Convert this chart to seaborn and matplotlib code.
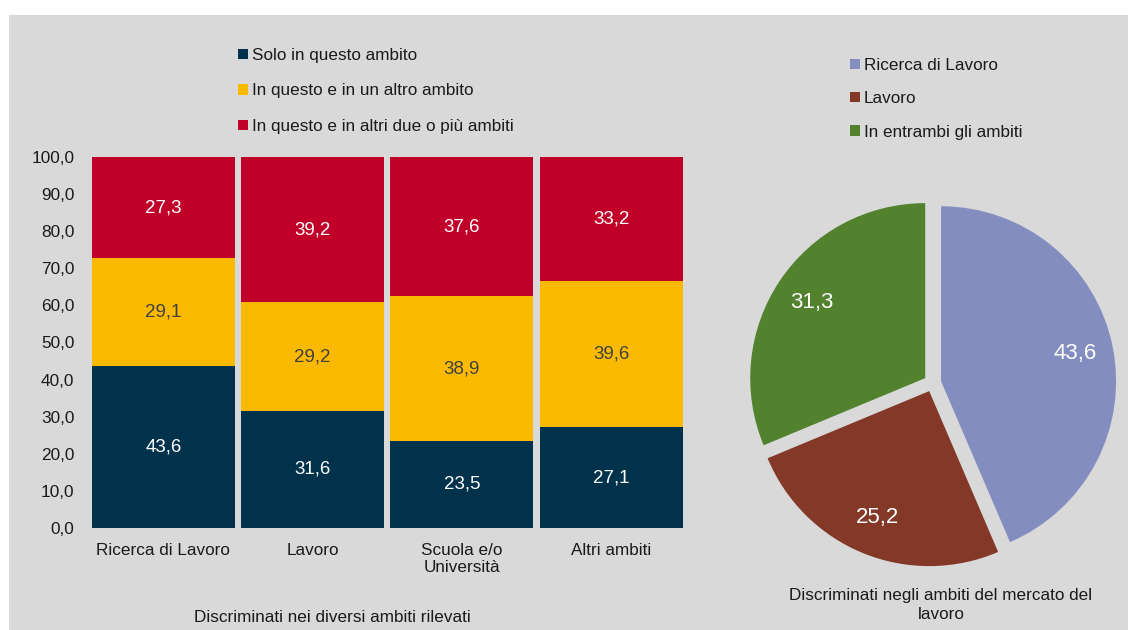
import matplotlib
matplotlib.use("Agg")
import matplotlib.pyplot as plt
import seaborn as sns
import numpy as np
from matplotlib.patches import Rectangle, Patch
from matplotlib.ticker import FuncFormatter

# ---- data ----
categories = ["Ricerca di Lavoro", "Lavoro", "Scuola e/o\nUniversità", "Altri ambiti"]
solo_questo = [43.6, 31.6, 23.5, 27.1]
questo_e_altro = [29.1, 29.2, 38.9, 39.6]
questo_e_due_piu = [27.3, 39.2, 37.6, 33.2]
series_names = [
    "Solo in questo ambito",
    "In questo e in un altro ambito",
    "In questo e in altri due o più ambiti",
]
y_ticks = [0, 10, 20, 30, 40, 50, 60, 70, 80, 90, 100]

pie_names = ["Ricerca di Lavoro", "Lavoro", "In entrambi gli ambiti"]
pie_values = [43.6, 25.2, 31.3]

bar_title = "Discriminati nei diversi ambiti rilevati"
pie_title = "Discriminati negli ambiti del mercato del\nlavoro"

# ---- style ----
bar_colors = ["#00324b", "#fbba00", "#c00028"]
label_colors = ["white", "#404040", "white"]
pie_colors = ["#848dc0", "#833828", "#53822e"]
panel_bg = "#d9d9d9"
text_col = "#1a1a1a"

sns.set_theme(style="white")
plt.rcParams["font.family"] = ["Liberation Sans", "DejaVu Sans"]

W, H = 1128, 630
fig = plt.figure(figsize=(W / 100, H / 100), dpi=100, facecolor="white")
fig.add_artist(Rectangle((9 / W, 0), 1 - 9 / W, (H - 15) / H, transform=fig.transFigure,
                         facecolor=panel_bg, edgecolor="none", zorder=-10))


def fmt(v):
    return f"{v:.1f}".replace(".", ",")


# ---- stacked bars ----
ax = fig.add_axes([88.8 / W, (H - 528) / H, 596.9 / W, 371 / H])
ax.set_facecolor("none")
layers = [solo_questo, questo_e_altro, questo_e_due_piu]
bottom = np.zeros(len(categories))
for vals, col, lab_col in zip(layers, bar_colors, label_colors):
    sns.barplot(x=categories, y=vals, bottom=bottom, color=col, saturation=1,
                width=0.958, linewidth=0, ax=ax, errorbar=None)
    ax.bar_label(ax.containers[-1], labels=[fmt(v) for v in vals], label_type="center",
                 color=lab_col, fontsize=13.5)
    bottom = bottom + np.array(vals)

ax.set_ylim(0, 100)
ax.set_xlim(-0.5, len(categories) - 0.5)
ax.set_yticks(y_ticks)
ax.yaxis.set_major_formatter(FuncFormatter(lambda v, p: fmt(v)))
ax.tick_params(axis="y", length=0, pad=10.5, labelsize=12.4, labelcolor=text_col)
ax.tick_params(axis="x", length=0, pad=10.5, labelsize=12.3, labelcolor=text_col)
for s in ax.spines.values():
    s.set_visible(False)
ax.grid(False)
ax.set_xlabel("")
ax.set_ylabel("")

handles = [Patch(facecolor=c, edgecolor="none") for c in bar_colors]
fig.legend(handles, series_names, loc="upper left", bbox_to_anchor=(238 / W, 1 - 48 / H),
           frameon=False, fontsize=12.3, handlelength=0.6, handleheight=0.55,
           handletextpad=0.2, labelspacing=1.2, borderpad=0, borderaxespad=0,
           labelcolor=text_col)

fig.text(332 / W, 1 - 617 / H, bar_title, ha="center", va="center", fontsize=12.3,
         color=text_col)

# ---- pie ----
pax = fig.add_axes([740 / W, (H - 575.5) / H, 385 / W, 385 / H])
pax.set_facecolor("none")
wedges, _ = pax.pie(pie_values, colors=pie_colors, startangle=90, counterclock=False,
                    explode=[0.05] * len(pie_values), radius=1,
                    wedgeprops=dict(linewidth=0))
pax.set_xlim(-1.1, 1.1)
pax.set_ylim(-1.1, 1.1)
pax.set_aspect("equal")
pax.axis("off")
for w, v in zip(wedges, pie_values):
    ang = np.deg2rad((w.theta1 + w.theta2) / 2)
    cx, cy = w.center
    r = 0.78
    pax.text(cx + r * np.cos(ang), cy + r * np.sin(ang), fmt(v), ha="center",
             va="center", color="white", fontsize=16)

phandles = [Patch(facecolor=c, edgecolor="none") for c in pie_colors]
fig.legend(phandles, pie_names, loc="upper left", bbox_to_anchor=(850 / W, 1 - 58 / H),
           frameon=False, fontsize=12.3, handlelength=0.6, handleheight=0.55,
           handletextpad=0.2, labelspacing=1.07, borderpad=0, borderaxespad=0,
           labelcolor=text_col)

fig.text(941 / W, 1 - 605 / H, pie_title, ha="center", va="center", fontsize=12.3,
         color=text_col, linespacing=1.3)

fig.savefig("out.png", dpi=100, facecolor="white")
